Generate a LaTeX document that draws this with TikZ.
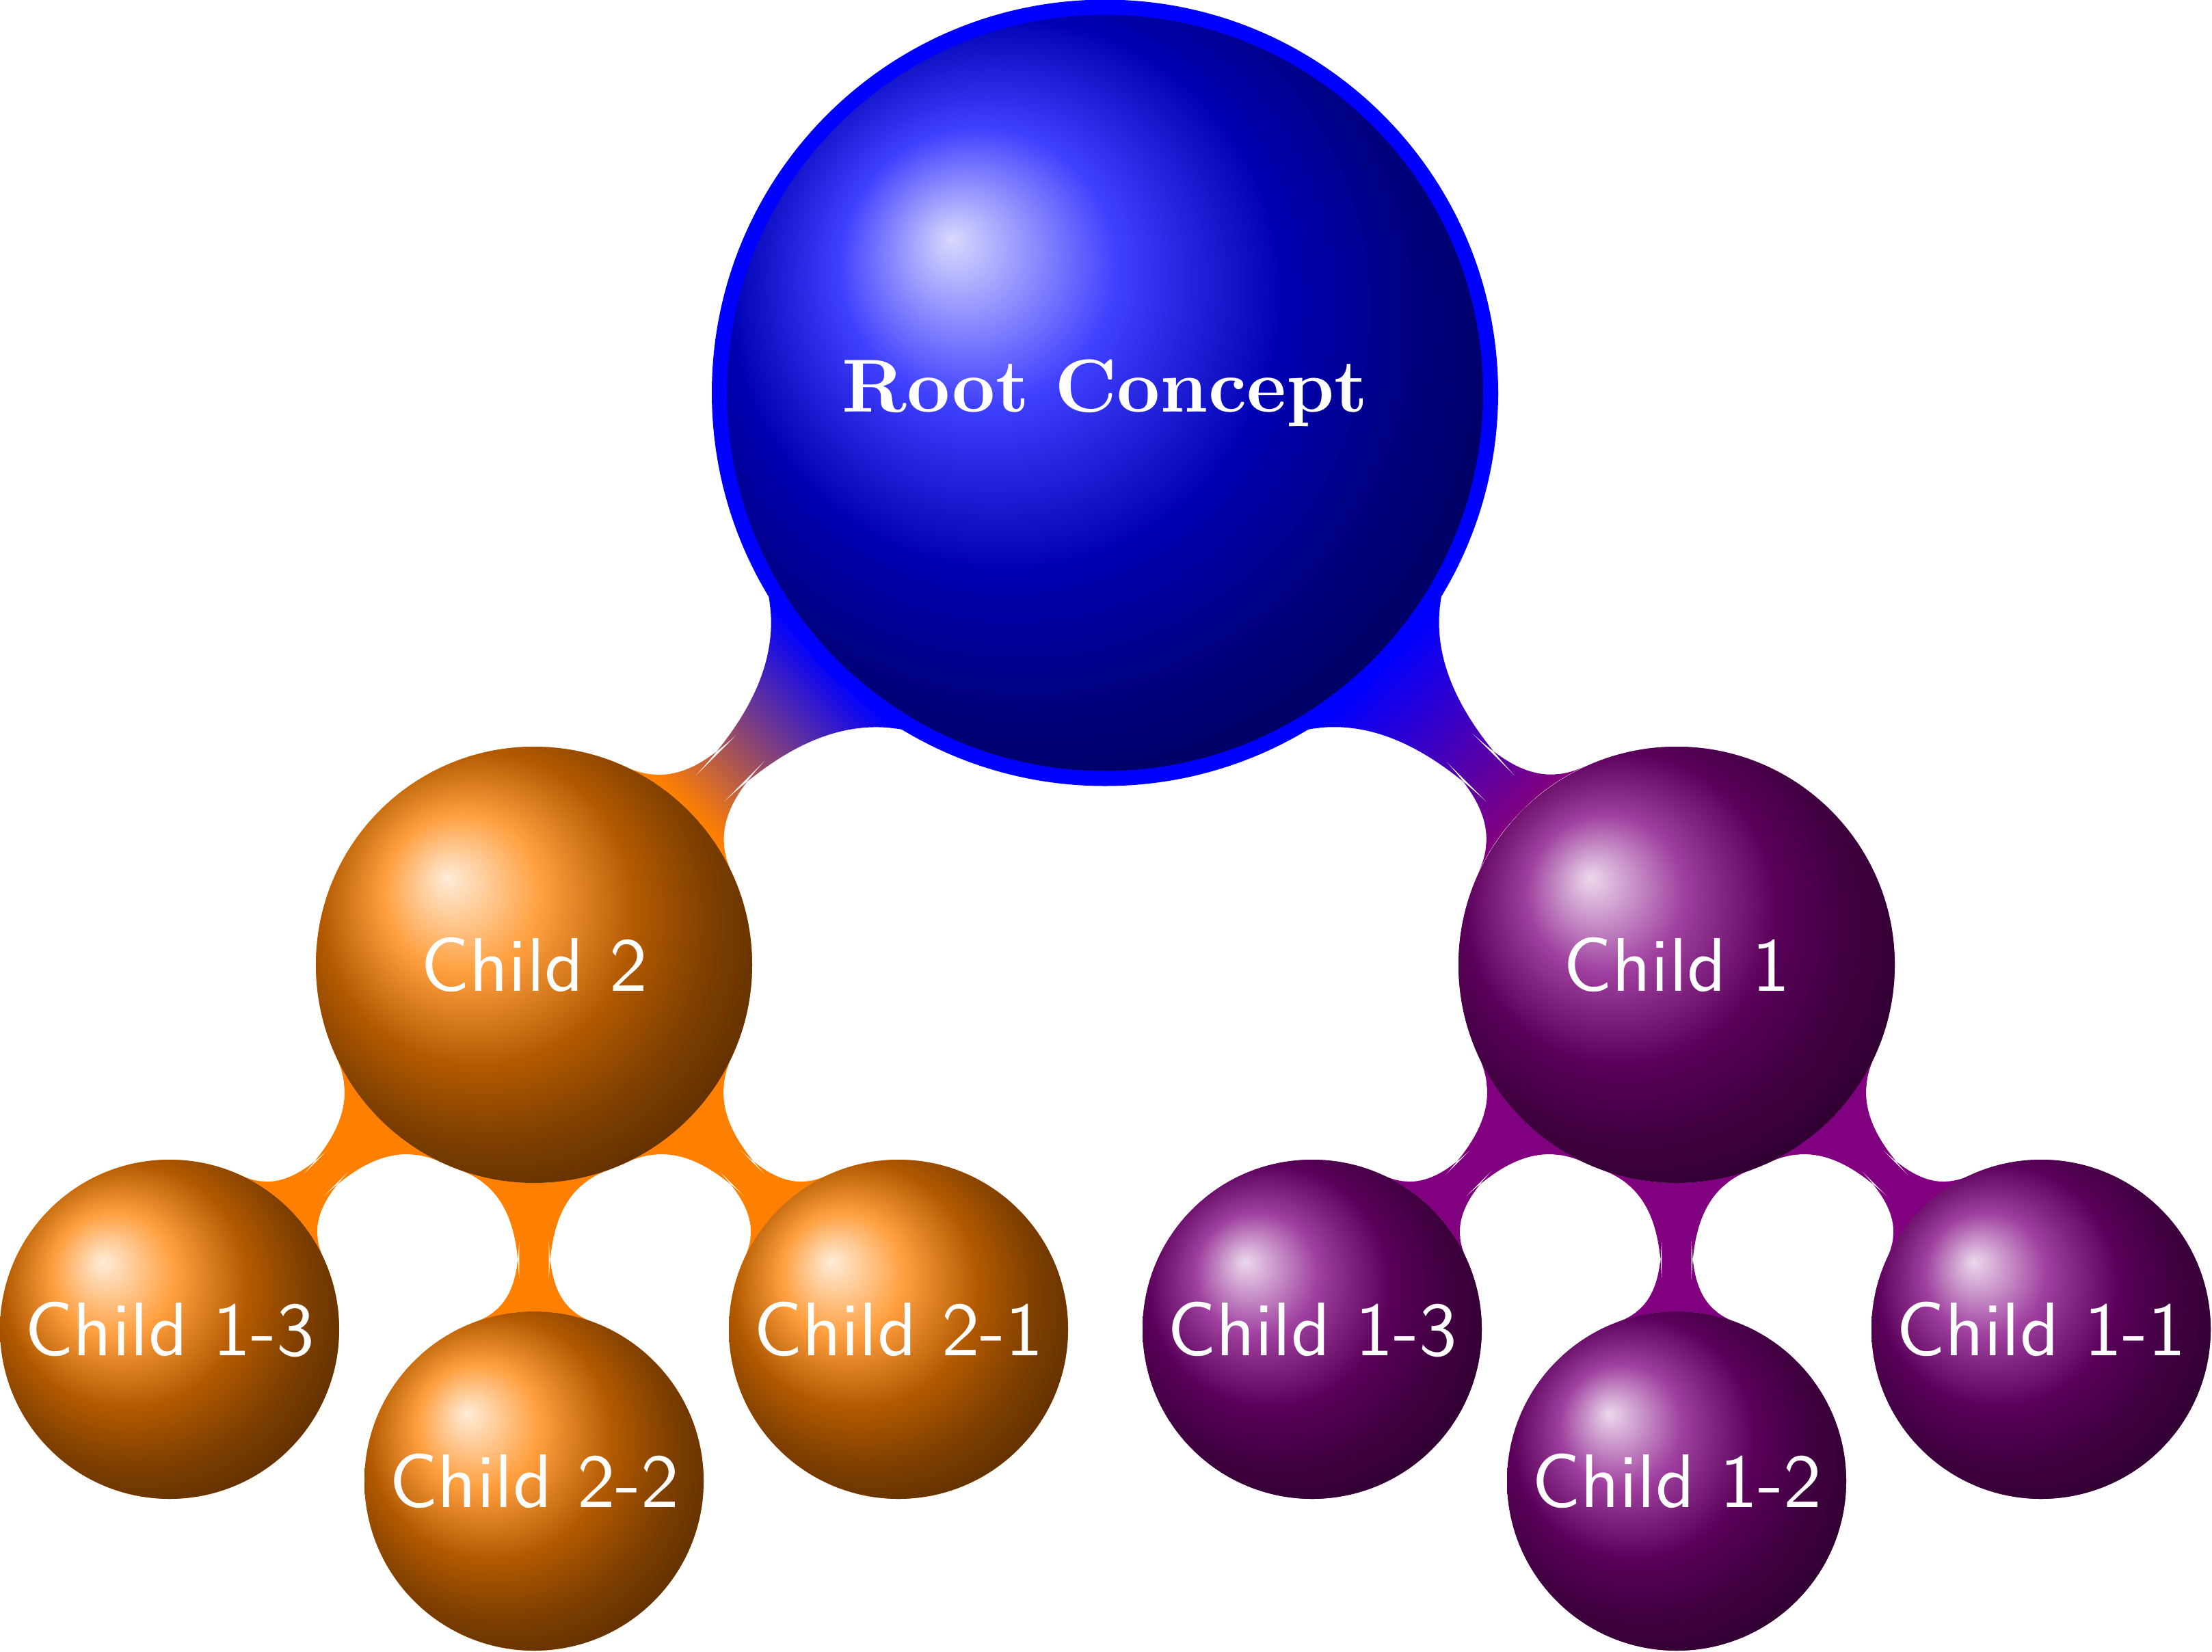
\documentclass[tikz,border=0pt]{standalone}
\usepackage{fontspec}
\newfontfamily\rootfont{lmroman10-bold.otf}
\newfontfamily\childfont{lmsans10-regular.otf}
\usetikzlibrary{mindmap,shadings,backgrounds}
\begin{document}
\begin{tikzpicture}[mindmap,
  rootstyle/.style={concept, concept color=blue, circle, minimum size=11.28cm, inner sep=0pt,
    text width=8.5cm, align=center, draw=blue, line width=0.22cm, shading=ball, ball color=blue,
    text=white, font=\fontsize{31.3}{37}\selectfont\rootfont},
  lvlone/.style={concept, concept color=#1, circle, minimum size=6.38cm, inner sep=0pt,
    text width=4.5cm, align=center, draw=none, shading=ball, ball color=#1,
    text=white, font=\fontsize{31.6}{38}\selectfont\childfont},
  lvltwo/.style={concept, concept color=#1, circle, minimum size=4.96cm, inner sep=0pt,
    text width=4.5cm, align=center, draw=none, shading=ball, ball color=#1,
    text=white, font=\fontsize{31.6}{38}\selectfont\childfont}
]
\useasboundingbox (0,0) rectangle (32.35,-24.16);

\node[rootstyle] (root) at (16.16,-5.745) {Root Concept};
\node[lvlone=orange] (c2) at (7.81,-14.11) {Child 2};
\node[lvlone=violet] (c1) at (24.52,-14.11) {Child 1};

\node[lvltwo=orange] (oa) at (2.48,-19.44) {Child 1-3};
\node[lvltwo=orange] (ob) at (7.81,-21.66) {Child 2-2};
\node[lvltwo=orange] (oc) at (13.14,-19.44) {Child 2-1};

\node[lvltwo=violet] (va) at (19.19,-19.44) {Child 1-3};
\node[lvltwo=violet] (vb) at (24.52,-21.66) {Child 1-2};
\node[lvltwo=violet] (vc) at (29.85,-19.44) {Child 1-1};

\begin{scope}[on background layer]
\path (root) to[circle connection bar switch color=from (blue) to (orange)] (c2);
\path (root) to[circle connection bar switch color=from (blue) to (violet)] (c1);
\path (c2) to[circle connection bar switch color=from (orange) to (orange)] (oa);
\path (c2) to[circle connection bar switch color=from (orange) to (orange)] (ob);
\path (c2) to[circle connection bar switch color=from (orange) to (orange)] (oc);
\path (c1) to[circle connection bar switch color=from (violet) to (violet)] (va);
\path (c1) to[circle connection bar switch color=from (violet) to (violet)] (vb);
\path (c1) to[circle connection bar switch color=from (violet) to (violet)] (vc);
\end{scope}
\end{tikzpicture}
\end{document}
